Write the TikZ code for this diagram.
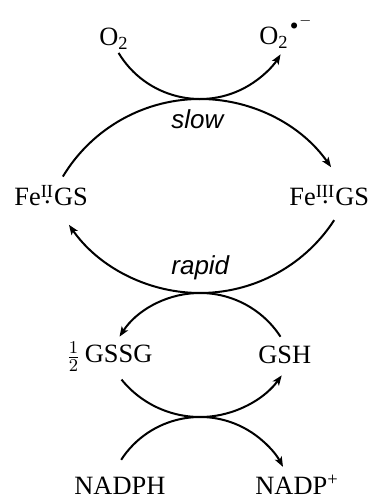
\documentclass[tikz,border=0pt]{standalone}
\usepackage{fontspec}
\setmainfont{Liberation Serif}
\setsansfont{Liberation Sans}
\usetikzlibrary{arrows.meta}

% iron complex label: oxidation state as superscript with a dot set beneath it
\newcommand\fegs[1]{Fe\setbox0\hbox{\textsuperscript{#1}}\rlap{\copy0}\makebox[\wd0][c]{\raisebox{0.1em}{.}}GS}
% superoxide radical anion
\newcommand\superox{O\textsubscript{2}\kern0.05em\raisebox{0.57em}{$\scriptscriptstyle\bullet$}\kern0.03em\raisebox{0.78em}{$\scriptscriptstyle-$}}

\begin{document}
\begin{tikzpicture}[x=0.5pt,y=0.5pt,
  chem/.style={font=\fontsize{13.2}{15}\selectfont, inner sep=0pt, anchor=base west},
  rate/.style={font=\sffamily\itshape\fontsize{13}{15}\selectfont, inner sep=0pt, anchor=base west},
  flow/.style={line width=1pt, -{Stealth[length=5pt,width=3.8pt,inset=1.2pt]}}]
\useasboundingbox (0,0) rectangle (373,497);

% species and rate labels
\node[chem] (o2)    at (99,451)  {O\textsubscript{2}};
\node[chem] (o2r)   at (259,452) {\superox};
\node[chem] (fe2)   at (14,291)  {\fegs{II}};
\node[chem] (fe3)   at (289,291) {\fegs{III}};
\node[chem] (gssg)  at (66,134)  {$\frac{1}{2}$\,GSSG};
\node[chem] (gsh)   at (258,133) {GSH};
\node[chem] (nadph) at (74,3)    {NADPH};
\node[chem] (nadp)  at (255,3)   {NADP\textsuperscript{+}};
\node[rate] (slow)  at (171,368) {slow};
\node[rate] (rapid) at (171,222) {rapid};

% centres of the circular arcs
\coordinate (c1) at (200,493);
\coordinate (c2) at (200,238);
\coordinate (c3) at (200,364);
\coordinate (c4) at (200,108);
\coordinate (c5) at (200,181);
\coordinate (c6) at (200,-14);

% arc start points
\path (c1) ++(211:95)  coordinate (s1);
\path (c2) ++(149:160) coordinate (s2);
\path (c3) ++(-33:160) coordinate (s3);
\path (c4) ++(33:96)   coordinate (s4);
\path (c5) ++(219:101) coordinate (s5);
\path (c6) ++(147:94)  coordinate (s6);

% O2 -> superoxide
\draw[flow] (s1) arc[start angle=211, end angle=328, radius=95];
% Fe(II) -> Fe(III), slow
\draw[flow] (s2) arc[start angle=149, end angle=35, radius=160];
% Fe(III) -> Fe(II), rapid
\draw[flow] (s3) arc[start angle=-33, end angle=-145, radius=160];
% GSH -> 1/2 GSSG
\draw[flow] (s4) arc[start angle=33, end angle=147, radius=96];
% 1/2 GSSG -> GSH
\draw[flow] (s5) arc[start angle=219, end angle=324, radius=101];
% NADPH -> NADP+
\draw[flow] (s6) arc[start angle=147, end angle=28, radius=94];
\end{tikzpicture}
\end{document}
